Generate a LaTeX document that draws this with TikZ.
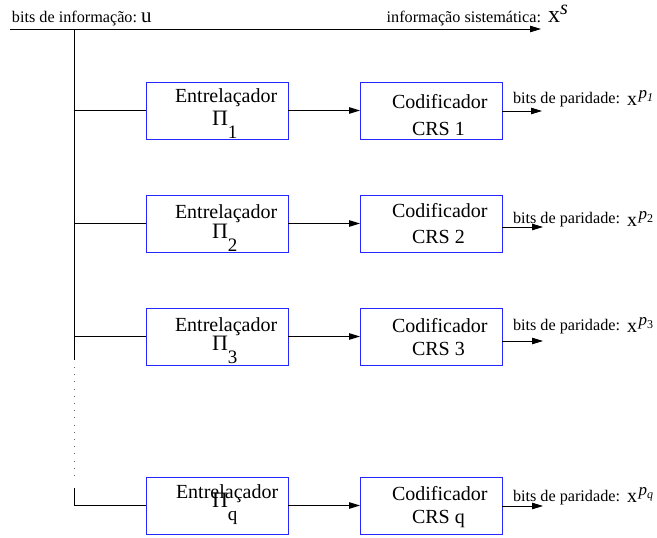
\documentclass[tikz,border=0pt]{standalone}
\usepackage{fontspec}
\setmainfont{Liberation Serif}
\usetikzlibrary{arrows.meta}
\newcommand{\smallfs}{\fontsize{16.2}{18}\selectfont}
\newcommand{\bigfs}{\fontsize{20}{23}\selectfont}
\newcommand{\pifs}{\fontsize{22}{24}\selectfont}
\newcommand{\Pisub}[1]{{\pifs Π}\raisebox{-13pt}{\fontsize{19}{21}\selectfont #1}}
\newcommand{\xpar}[1]{{\fontsize{20}{22}\selectfont x}\hspace{1.5pt}\raisebox{7pt}{\fontsize{17}{19}\selectfont\itshape p\raisebox{-3pt}{\fontsize{12}{13}\selectfont #1}}}
\begin{document}
\begin{tikzpicture}[x=1pt,y=-1pt,
  blk/.style={draw=blue!85!white, line width=0.9pt, minimum width=142pt, minimum height=57pt, inner sep=0pt, outer sep=0pt, anchor=north west},
  txt/.style={inner sep=0pt, outer sep=0pt, anchor=base west},
  ln/.style={line width=0.9pt, black},
  arr/.style={ln, -{Triangle[length=11pt,width=6.5pt]}}]
\useasboundingbox (0,0) rectangle (657,538);

% top information line
\coordinate (in0) at (10,29);
\coordinate (sys) at (541,29);
\coordinate (t0) at (74,29);
\draw[arr] (in0) -- (sys);
\node[txt] (tin) at (12,22) {\smallfs bits de informação:};
\node[txt] (tu) at (141,22) {\fontsize{21}{23}\selectfont u};
\node[txt, anchor=base east] (tsys) at (541,22) {\smallfs informação sistemática:};
\node[txt] (txs) at (548,22) {{\fontsize{24}{26}\selectfont x}\raisebox{7pt}{\fontsize{20}{22}\selectfont\itshape s}};

% boxes
\node[blk] (int1) at (146,82) {};
\node[blk] (enc1) at (360,82) {};
\node[blk] (int2) at (146,195) {};
\node[blk] (enc2) at (360,195) {};
\node[blk] (int3) at (146,308) {};
\node[blk] (enc3) at (360,308) {};
\node[blk] (intq) at (146,477) {};
\node[blk] (encq) at (360,477) {};

% box texts
\node[txt] (e1) at (175,102) {\bigfs Entrelaçador};
\node[txt] (pi1) at (212,125) {\Pisub{1}};
\node[txt] (c1) at (392,108) {\bigfs Codificador};
\node[txt] (r1) at (412,135) {\bigfs CRS 1};

\node[txt] (e2) at (175,218) {\bigfs Entrelaçador};
\node[txt] (pi2) at (212,238) {\Pisub{2}};
\node[txt] (c2) at (392,217) {\bigfs Codificador};
\node[txt] (r2) at (412,243) {\bigfs CRS 2};

\node[txt] (e3) at (175,331) {\bigfs Entrelaçador};
\node[txt] (pi3) at (212,350) {\Pisub{3}};
\node[txt] (c3) at (392,332) {\bigfs Codificador};
\node[txt] (r3) at (412,355) {\bigfs CRS 3};

\node[txt] (eq) at (176,498) {\bigfs Entrelaçador};
\node[txt] (piq) at (212,507) {\Pisub{q}};
\node[txt] (cq) at (392,500) {\bigfs Codificador};
\node[txt] (rq) at (412,523) {\bigfs CRS q};

% trunk
\coordinate (tr3) at (74,360);
\coordinate (d0) at (74,367);
\coordinate (d1) at (74,476);
\coordinate (tq) at (74,488);
\draw[ln] (t0) -- (tr3);
\draw[line width=0.9pt, black!60, dash pattern=on 0.9pt off 6.3pt] (d0) -- (d1);
\draw[ln] (tq) |- (intq.west);
\draw[ln] (int1.west -| t0) -- (int1.west);
\draw[ln] (int2.west -| t0) -- (int2.west);
\draw[ln] (int3.west -| t0) -- (int3.west);

% interleaver -> encoder
\draw[arr] (int1) -- (enc1);
\draw[arr] (int2) -- (enc2);
\draw[arr] (int3) -- (enc3);
\draw[arr] (intq) -- (encq);

% parity outputs
\coordinate (p1) at (542,111);
\coordinate (p2) at (543,227);
\coordinate (p3) at (543,341);
\coordinate (pq) at (543,506);
\draw[arr] (enc1.east |- p1) -- (p1);
\draw[arr] (enc2.east |- p2) -- (p2);
\draw[arr] (enc3.east |- p3) -- (p3);
\draw[arr] (encq.east |- pq) -- (pq);

\node[txt] (l1) at (513,103) {\smallfs bits de paridade:};
\node[txt] (x1) at (627,105) {\xpar{1}};
\node[txt] (l2) at (513,223) {\smallfs bits de paridade:};
\node[txt] (x2) at (627,226) {\xpar{\upshape 2}};
\node[txt] (l3) at (513,330) {\smallfs bits de paridade:};
\node[txt] (x3) at (627,332) {\xpar{\upshape 3}};
\node[txt] (lq) at (513,501) {\smallfs bits de paridade:};
\node[txt] (xq) at (627,502) {\xpar{q}};
\end{tikzpicture}
\end{document}
